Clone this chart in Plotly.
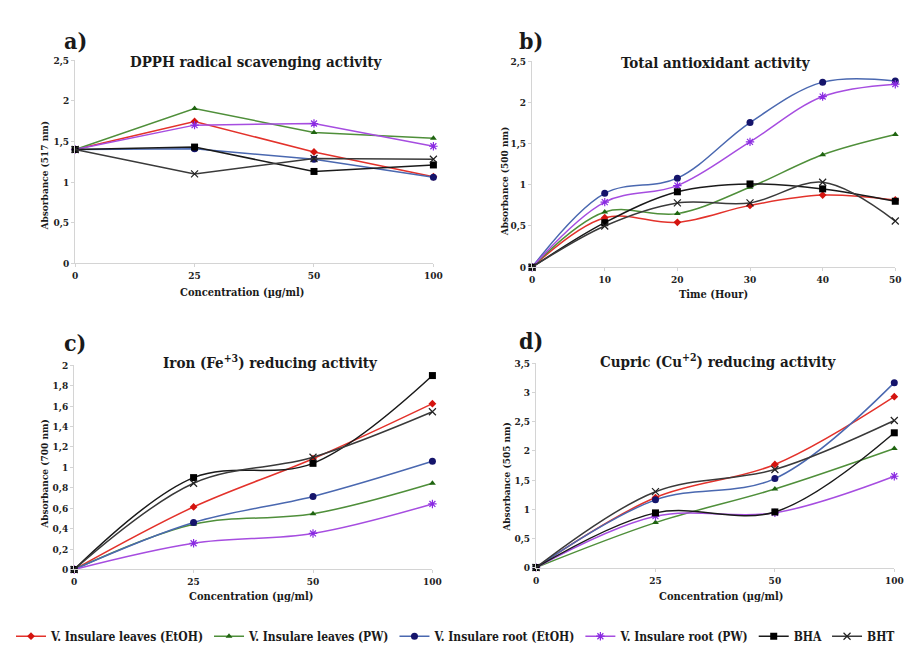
import plotly.graph_objects as go

# ---------------- data ----------------
conc_labels = ["0", "25", "50", "100"]
time_hours = [0, 10, 20, 30, 40, 50]

series_names = ["V. Insulare leaves (EtOH)", "V. Insulare leaves (PW)",
                "V. Insulare root (EtOH)", "V. Insulare root (PW)", "BHA", "BHT"]

# a) DPPH radical scavenging activity (517 nm)
dpph_leaves_etoh = [1.40, 1.745, 1.37, 1.065]
dpph_leaves_pw = [1.40, 1.905, 1.61, 1.54]
dpph_root_etoh = [1.40, 1.41, 1.28, 1.06]
dpph_root_pw = [1.40, 1.70, 1.72, 1.44]
dpph_bha = [1.40, 1.43, 1.13, 1.21]
dpph_bht = [1.40, 1.10, 1.29, 1.28]

# b) Total antioxidant activity (500 nm)
tac_leaves_etoh = [0, 0.60, 0.545, 0.75, 0.875, 0.815]
tac_leaves_pw = [0, 0.67, 0.65, 0.97, 1.365, 1.61]
tac_root_etoh = [0, 0.896, 1.08, 1.755, 2.245, 2.26]
tac_root_pw = [0, 0.79, 0.99, 1.52, 2.07, 2.22]
tac_bha = [0, 0.54, 0.915, 1.01, 0.95, 0.80]
tac_bht = [0, 0.50, 0.78, 0.78, 1.03, 0.56]

# c) Iron (Fe+3) reducing activity (700 nm)
iron_leaves_etoh = [0, 0.613, 1.085, 1.625]
iron_leaves_pw = [0, 0.443, 0.546, 0.845]
iron_root_etoh = [0, 0.46, 0.716, 1.06]
iron_root_pw = [0, 0.257, 0.353, 0.642]
iron_bha = [0, 0.90, 1.04, 1.90]
iron_bht = [0, 0.845, 1.10, 1.545]

# d) Cupric (Cu+2) reducing activity (505 nm)
cu_leaves_etoh = [0, 1.20, 1.767, 2.93]
cu_leaves_pw = [0, 0.77, 1.346, 2.04]
cu_root_etoh = [0, 1.16, 1.525, 3.17]
cu_root_pw = [0, 0.88, 0.937, 1.565]
cu_bha = [0, 0.937, 0.953, 2.31]
cu_bht = [0, 1.30, 1.68, 2.52]

# ---------------- styles ----------------
line_colors = ["#e3322b", "#4f8f3a", "#4a68b0", "#a64de0", "#1a1a1a", "#3a3a3a"]
marker_colors = ["#d4140f", "#1f6410", "#15146b", "#8a2be2", "#000000", "#222222"]
symbols = ["diamond", "triangle-up", "circle", "asterisk-open", "square", "x-thin-open"]
msizes = [6, 6, 7, 7, 7, 7]

FONT = "DejaVu Serif Condensed, DejaVu Serif"
fig = go.Figure()

panels = [
    ("x", "y", conc_labels, [dpph_leaves_etoh, dpph_leaves_pw, dpph_root_etoh, dpph_root_pw, dpph_bha, dpph_bht], "linear"),
    ("x2", "y2", time_hours, [tac_leaves_etoh, tac_leaves_pw, tac_root_etoh, tac_root_pw, tac_bha, tac_bht], "spline"),
    ("x3", "y3", conc_labels, [iron_leaves_etoh, iron_leaves_pw, iron_root_etoh, iron_root_pw, iron_bha, iron_bht], "spline"),
    ("x4", "y4", conc_labels, [cu_leaves_etoh, cu_leaves_pw, cu_root_etoh, cu_root_pw, cu_bha, cu_bht], "spline"),
]

for pi, (xa, ya, xs, ys_list, shape) in enumerate(panels):
    for i, ys in enumerate(ys_list):
        mline = dict(width=1.2, color=marker_colors[i]) if "open" in symbols[i] else dict(width=0)
        fig.add_trace(go.Scatter(
            x=xs, y=ys, xaxis=xa, yaxis=ya,
            mode="lines+markers", name=series_names[i],
            legendgroup=series_names[i], showlegend=(pi == 0),
            line=dict(color=line_colors[i], width=1.5, shape=shape, smoothing=1.0),
            marker=dict(symbol=symbols[i], size=msizes[i], color=marker_colors[i], line=mline),
            cliponaxis=False,
        ))

axis_common = dict(showgrid=False, zeroline=False, showline=True, linecolor="#d4d4d4",
                   linewidth=1, ticks="outside", ticklen=3, tickcolor="#d4d4d4",
                   tickfont=dict(family=FONT, size=10, color="#222", weight="bold"))

def W(px):
    return px / 918.0

def H(py):
    return 1 - py / 646.0

layout_axes = dict(
    xaxis=dict(domain=[W(65), W(428)], anchor="y", type="category",
               categoryorder="array", categoryarray=conc_labels, range=[0, 3], **axis_common),
    yaxis=dict(domain=[H(254), H(47)], anchor="x", range=[0, 2.5], dtick=0.5, **axis_common),
    xaxis2=dict(domain=[W(528), W(896)], anchor="y2", range=[0, 50], dtick=10, **axis_common),
    yaxis2=dict(domain=[H(258), H(48)], anchor="x2", range=[0, 2.5], dtick=0.5, **axis_common),
    xaxis3=dict(domain=[W(64), W(427)], anchor="y3", type="category",
                categoryorder="array", categoryarray=conc_labels, range=[0, 3], **axis_common),
    yaxis3=dict(domain=[H(566), H(358)], anchor="x3", range=[0, 2], dtick=0.2, **axis_common),
    xaxis4=dict(domain=[W(532), W(895)], anchor="y4", type="category",
                categoryorder="array", categoryarray=conc_labels, range=[0, 3], **axis_common),
    yaxis4=dict(domain=[H(564), H(356)], anchor="x4", range=[0, 3.5], dtick=0.5, **axis_common),
)

def ann(text, x, y, size, angle=0):
    return dict(text=text, x=W(x), y=H(y), xref="paper", yref="paper", showarrow=False,
                xanchor="center", yanchor="middle", textangle=angle,
                font=dict(family=FONT, size=size, color="#1a1a1a", weight="bold"))

annotations = [
    ann("a)", 65, 27, 23), ann("b)", 527, 27, 23), ann("c)", 65, 335, 23), ann("d)", 527, 333, 23),
    ann("DPPH radical scavenging activity", 248, 49, 15),
    ann("Total antioxidant activity", 714, 50, 15),
    ann("Iron (Fe<sup>+3</sup>) reducing activity", 263, 355, 15),
    ann("Cupric (Cu<sup>+2</sup>) reducing activity", 716, 354, 15),
    ann("Absorbance (517 nm)", 34, 165, 10, -90),
    ann("Absorbance (500 nm)", 500, 170, 10, -90),
    ann("Absorbance (700 nm)", 34, 469, 10, -90),
    ann("Absorbance (505 nm)", 502, 471, 10, -90),
    ann("Concentration (µg/ml)", 234, 284, 11),
    ann("Time (Hour)", 712, 286, 11),
    ann("Concentration (µg/ml)", 243, 594, 11),
    ann("Concentration (µg/ml)", 719, 594, 11),
]

fig.update_layout(
    width=918, height=646,
    margin=dict(l=0, r=0, t=0, b=0),
    paper_bgcolor="white", plot_bgcolor="white",
    separators=",.",
    font=dict(family=FONT, color="#1a1a1a"),
    annotations=annotations,
    legend=dict(orientation="h", x=0.0, xanchor="left", y=H(634), yanchor="middle",
                font=dict(family=FONT, size=12, color="#1a1a1a", weight="bold"),
                bgcolor="rgba(0,0,0,0)", itemwidth=30, tracegroupgap=0),
    **layout_axes,
)

fig.write_html("out.html")
